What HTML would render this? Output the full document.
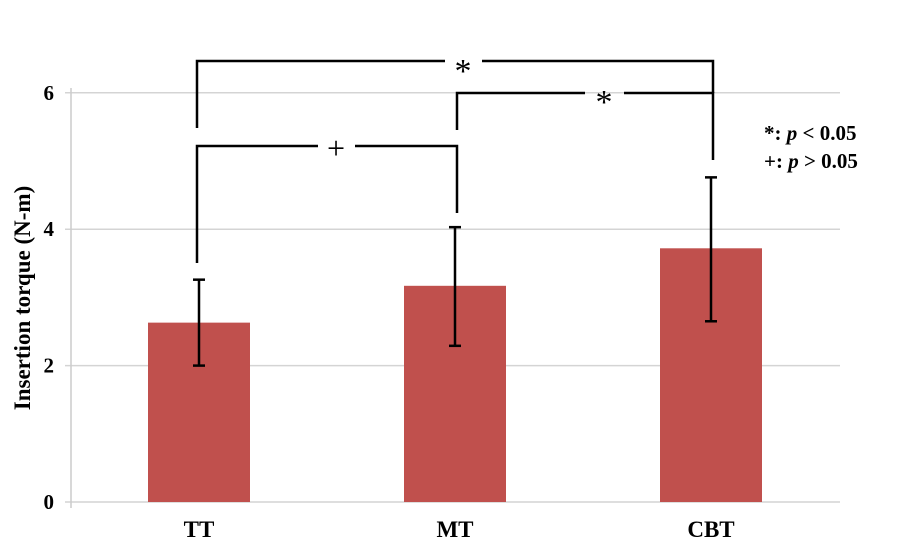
<!DOCTYPE html>
<html><head><meta charset="utf-8"><style>
body{margin:0;background:#fff;}
svg{display:block;font-family:"Liberation Serif",serif;font-weight:bold;}
</style></head><body>
<svg id="chart" width="905" height="544" viewBox="0 0 905 544" xmlns="http://www.w3.org/2000/svg">
<g id="grid"></g>
<line x1="71" y1="88" x2="71" y2="508" stroke="#ccc" stroke-width="1.5"/>
<g id="yticks"></g>
<text transform="translate(30,298) rotate(-90)" text-anchor="middle" font-size="23">Insertion torque (N-m)</text>
<g id="bars"></g>
<g id="xlabels"></g>
<g stroke="#000" stroke-width="2.5" fill="none">
<polyline points="197,128 197,61 445,61"/>
<polyline points="482,61 713,61 713,93"/>
<polyline points="457,130 457,93 585,93"/>
<polyline points="624,93 713,93 713,160"/>
<polyline points="197,263 197,146 318,146"/>
<polyline points="355,146 457,146 457,213"/>
</g>
<text x="463" y="82" text-anchor="middle" font-size="34" font-weight="normal">*</text>
<text x="604" y="113" text-anchor="middle" font-size="34" font-weight="normal">*</text>
<text x="336" y="159" text-anchor="middle" font-size="32" font-weight="normal">+</text>
<text x="764" y="140" font-size="21">*: <tspan font-style="italic">p</tspan> &lt; 0.05</text>
<text x="764" y="168" font-size="21">+: <tspan font-style="italic">p</tspan> &gt; 0.05</text>
</svg>
<script>
const categories=["TT","MT","CBT"];
const means=[2.63,3.17,3.72];
const errUpper=[3.26,4.03,4.76];
const errLower=[2.0,2.29,2.65];
const yTicks=[0,2,4,6];
const NS="http://www.w3.org/2000/svg";
function y(v){return 502-v*68.2;}
function xc(i){return 199+i*256;}
function mk(tag,attrs,parent){const e=document.createElementNS(NS,tag);for(const k in attrs)e.setAttribute(k,attrs[k]);parent.appendChild(e);return e;}
const grid=document.getElementById('grid'),yt=document.getElementById('yticks'),bars=document.getElementById('bars'),xl=document.getElementById('xlabels');
yTicks.forEach(t=>{
 const l=mk('line',{x1:65,x2:840,y1:y(t),y2:y(t),stroke:'#d4d4d4','stroke-width':1.5},grid);
 
 
 const tx=mk('text',{x:54,y:y(t)+7,'text-anchor':'end','font-size':21},yt);
 tx.textContent=t;
 
 
});
categories.forEach((c,i)=>{
 const x=xc(i);
 const r=mk('rect',{x:x-51,y:y(means[i]),width:102,height:y(0)-y(means[i]),fill:'#c0504d'},bars);
 
 
 const g=mk('g',{stroke:'#000','stroke-width':2.5},bars);
 
 
 mk('line',{x1:x,x2:x,y1:y(errUpper[i]),y2:y(errLower[i])},g);
 mk('line',{x1:x-6,x2:x+6,y1:y(errUpper[i]),y2:y(errUpper[i])},g);
 mk('line',{x1:x-6,x2:x+6,y1:y(errLower[i]),y2:y(errLower[i])},g);
 const t=mk('text',{x:x,y:537,'text-anchor':'middle','font-size':23},xl);
 t.textContent=c;
 
 
});
</script>
</body></html>
